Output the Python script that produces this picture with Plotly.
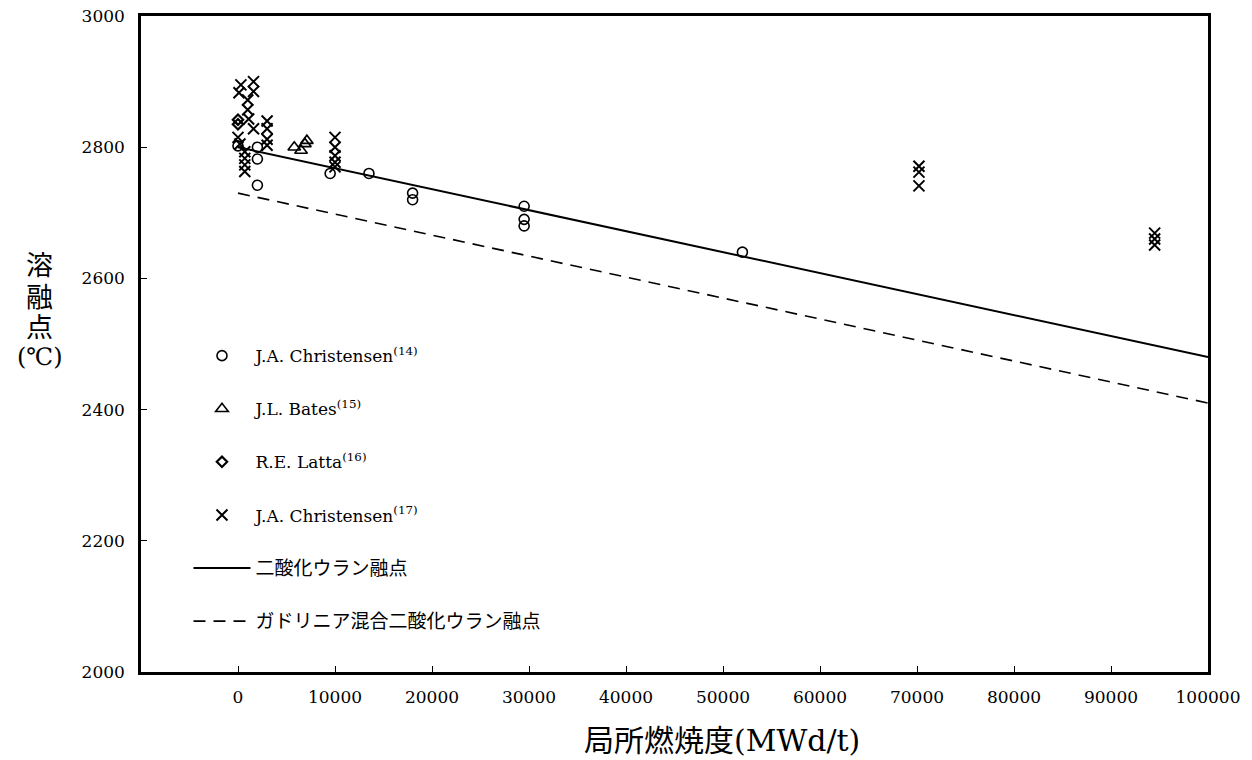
import plotly.graph_objects as go

# ---- data ----
christ14_x = [0, 2000, 2000, 2000, 9500, 13500, 18000, 18000, 29500, 29500, 29500, 52000]
christ14_y = [2802, 2800, 2782, 2742, 2760, 2760, 2730, 2720, 2710, 2690, 2680, 2640]

bates_x = [5800, 6500, 6900, 7100]
bates_y = [2800, 2795, 2805, 2810]

latta_x = [0, 0]
latta_y = [2842, 2835]

christ17_x = [300, 100, 1600, 1600, 1000, 1000, 1100, 1600, 0, 200,
              700, 700, 700, 700,
              3000, 3000, 3000, 3000,
              10000, 10000, 10000, 10000, 10000,
              70200, 70200, 70200,
              94500, 94500, 94500]
christ17_y = [2895, 2883, 2900, 2885, 2872, 2857, 2843, 2828, 2815, 2805,
              2793, 2783, 2773, 2763,
              2840, 2828, 2812, 2803,
              2815, 2800, 2787, 2777, 2770,
              2771, 2762, 2741,
              2669, 2660, 2651]

uo2_x = [0, 100000]
uo2_y = [2800, 2480]
gd_x = [0, 100000]
gd_y = [2730, 2410]

x_ticks = [0, 10000, 20000, 30000, 40000, 50000, 60000, 70000, 80000, 90000, 100000]
y_ticks = [2000, 2200, 2400, 2600, 2800, 3000]

y_title_parts = ["溶", "融", "点", "(℃)"]
y_title_pos = [0.6204, 0.5716, 0.5259, 0.4802]

FONT = "DejaVu Serif, 'Noto Sans CJK JP', serif"

fig = go.Figure()
mk_line = dict(color="black", width=1.6)
fig.add_trace(go.Scatter(x=christ14_x, y=christ14_y, mode="markers",
                         name="J.A. Christensen<sup>(14)</sup>", legendgroup="a",
                         marker=dict(symbol="circle-open", size=10, color="black", line=mk_line)))
fig.add_trace(go.Scatter(x=bates_x, y=bates_y, mode="markers",
                         name="J.L. Bates<sup>(15)</sup>", legendgroup="b",
                         marker=dict(symbol="triangle-up-open", size=11, color="black", line=mk_line)))
fig.add_trace(go.Scatter(x=latta_x, y=latta_y, mode="markers",
                         name="R.E. Latta<sup>(16)</sup>", legendgroup="c",
                         marker=dict(symbol="diamond-open", size=8, color="black", line=dict(color="black", width=2.2))))
fig.add_trace(go.Scatter(x=christ17_x, y=christ17_y, mode="markers",
                         name="J.A. Christensen<sup>(17)</sup>", legendgroup="d",
                         marker=dict(symbol="x-thin-open", size=11, color="black", line=dict(color="black", width=2))))
fig.add_trace(go.Scatter(x=uo2_x, y=uo2_y, mode="lines",
                         name='<span style="font-size:19px">二酸化ウラン融点</span>', legendgroup="e",
                         line=dict(color="black", width=2)))
fig.add_trace(go.Scatter(x=gd_x, y=gd_y, mode="lines",
                         name='<span style="font-size:19px">ガドリニア混合二酸化ウラン融点</span>', legendgroup="f",
                         line=dict(color="black", width=1.6, dash="12px,8px")))

axis_common = dict(showgrid=False, zeroline=False, showline=True, linecolor="black", linewidth=2.5,
                   mirror=True, ticks="inside", ticklen=6, tickwidth=1, tickcolor="black",
                   automargin=False, ticklabeloverflow="allow",
                   tickfont=dict(family=FONT, size=17, color="black"))
fig.update_xaxes(range=[-10000, 100000], tickvals=x_ticks, ticktext=[str(v) for v in x_ticks],
                 ticklabelstandoff=8, **axis_common)
fig.update_yaxes(range=[2000, 3000], tickvals=y_ticks, ticklabelstandoff=10, **axis_common)

fig.add_annotation(text="局所燃焼度(MWd/t)", xref="paper", yref="paper", x=0.5445, y=-0.1037,
                   xanchor="center", yanchor="middle", showarrow=False,
                   font=dict(family=FONT, size=30, color="black"))
for part, py in zip(y_title_parts, y_title_pos):
    fig.add_annotation(text=part, xref="paper", yref="paper", x=-0.0947, y=py,
                       xanchor="center", yanchor="middle", showarrow=False,
                       font=dict(family=FONT, size=27 if len(part) == 1 else 24, color="black"))

fig.update_layout(
    width=1252, height=760,
    margin=dict(l=141, r=44, t=16, b=88),
    paper_bgcolor="white", plot_bgcolor="white",
    font=dict(family=FONT, color="black"),
    legend=dict(x=0.0445, y=0.509, xanchor="left", yanchor="top", bgcolor="rgba(0,0,0,0)",
                font=dict(family=FONT, size=17, color="black"),
                itemwidth=57, tracegroupgap=28),
)

fig.write_html("out.html", config={"displayModeBar": False},
               post_script="document.body.style.margin='0';document.body.style.overflow='hidden';")
